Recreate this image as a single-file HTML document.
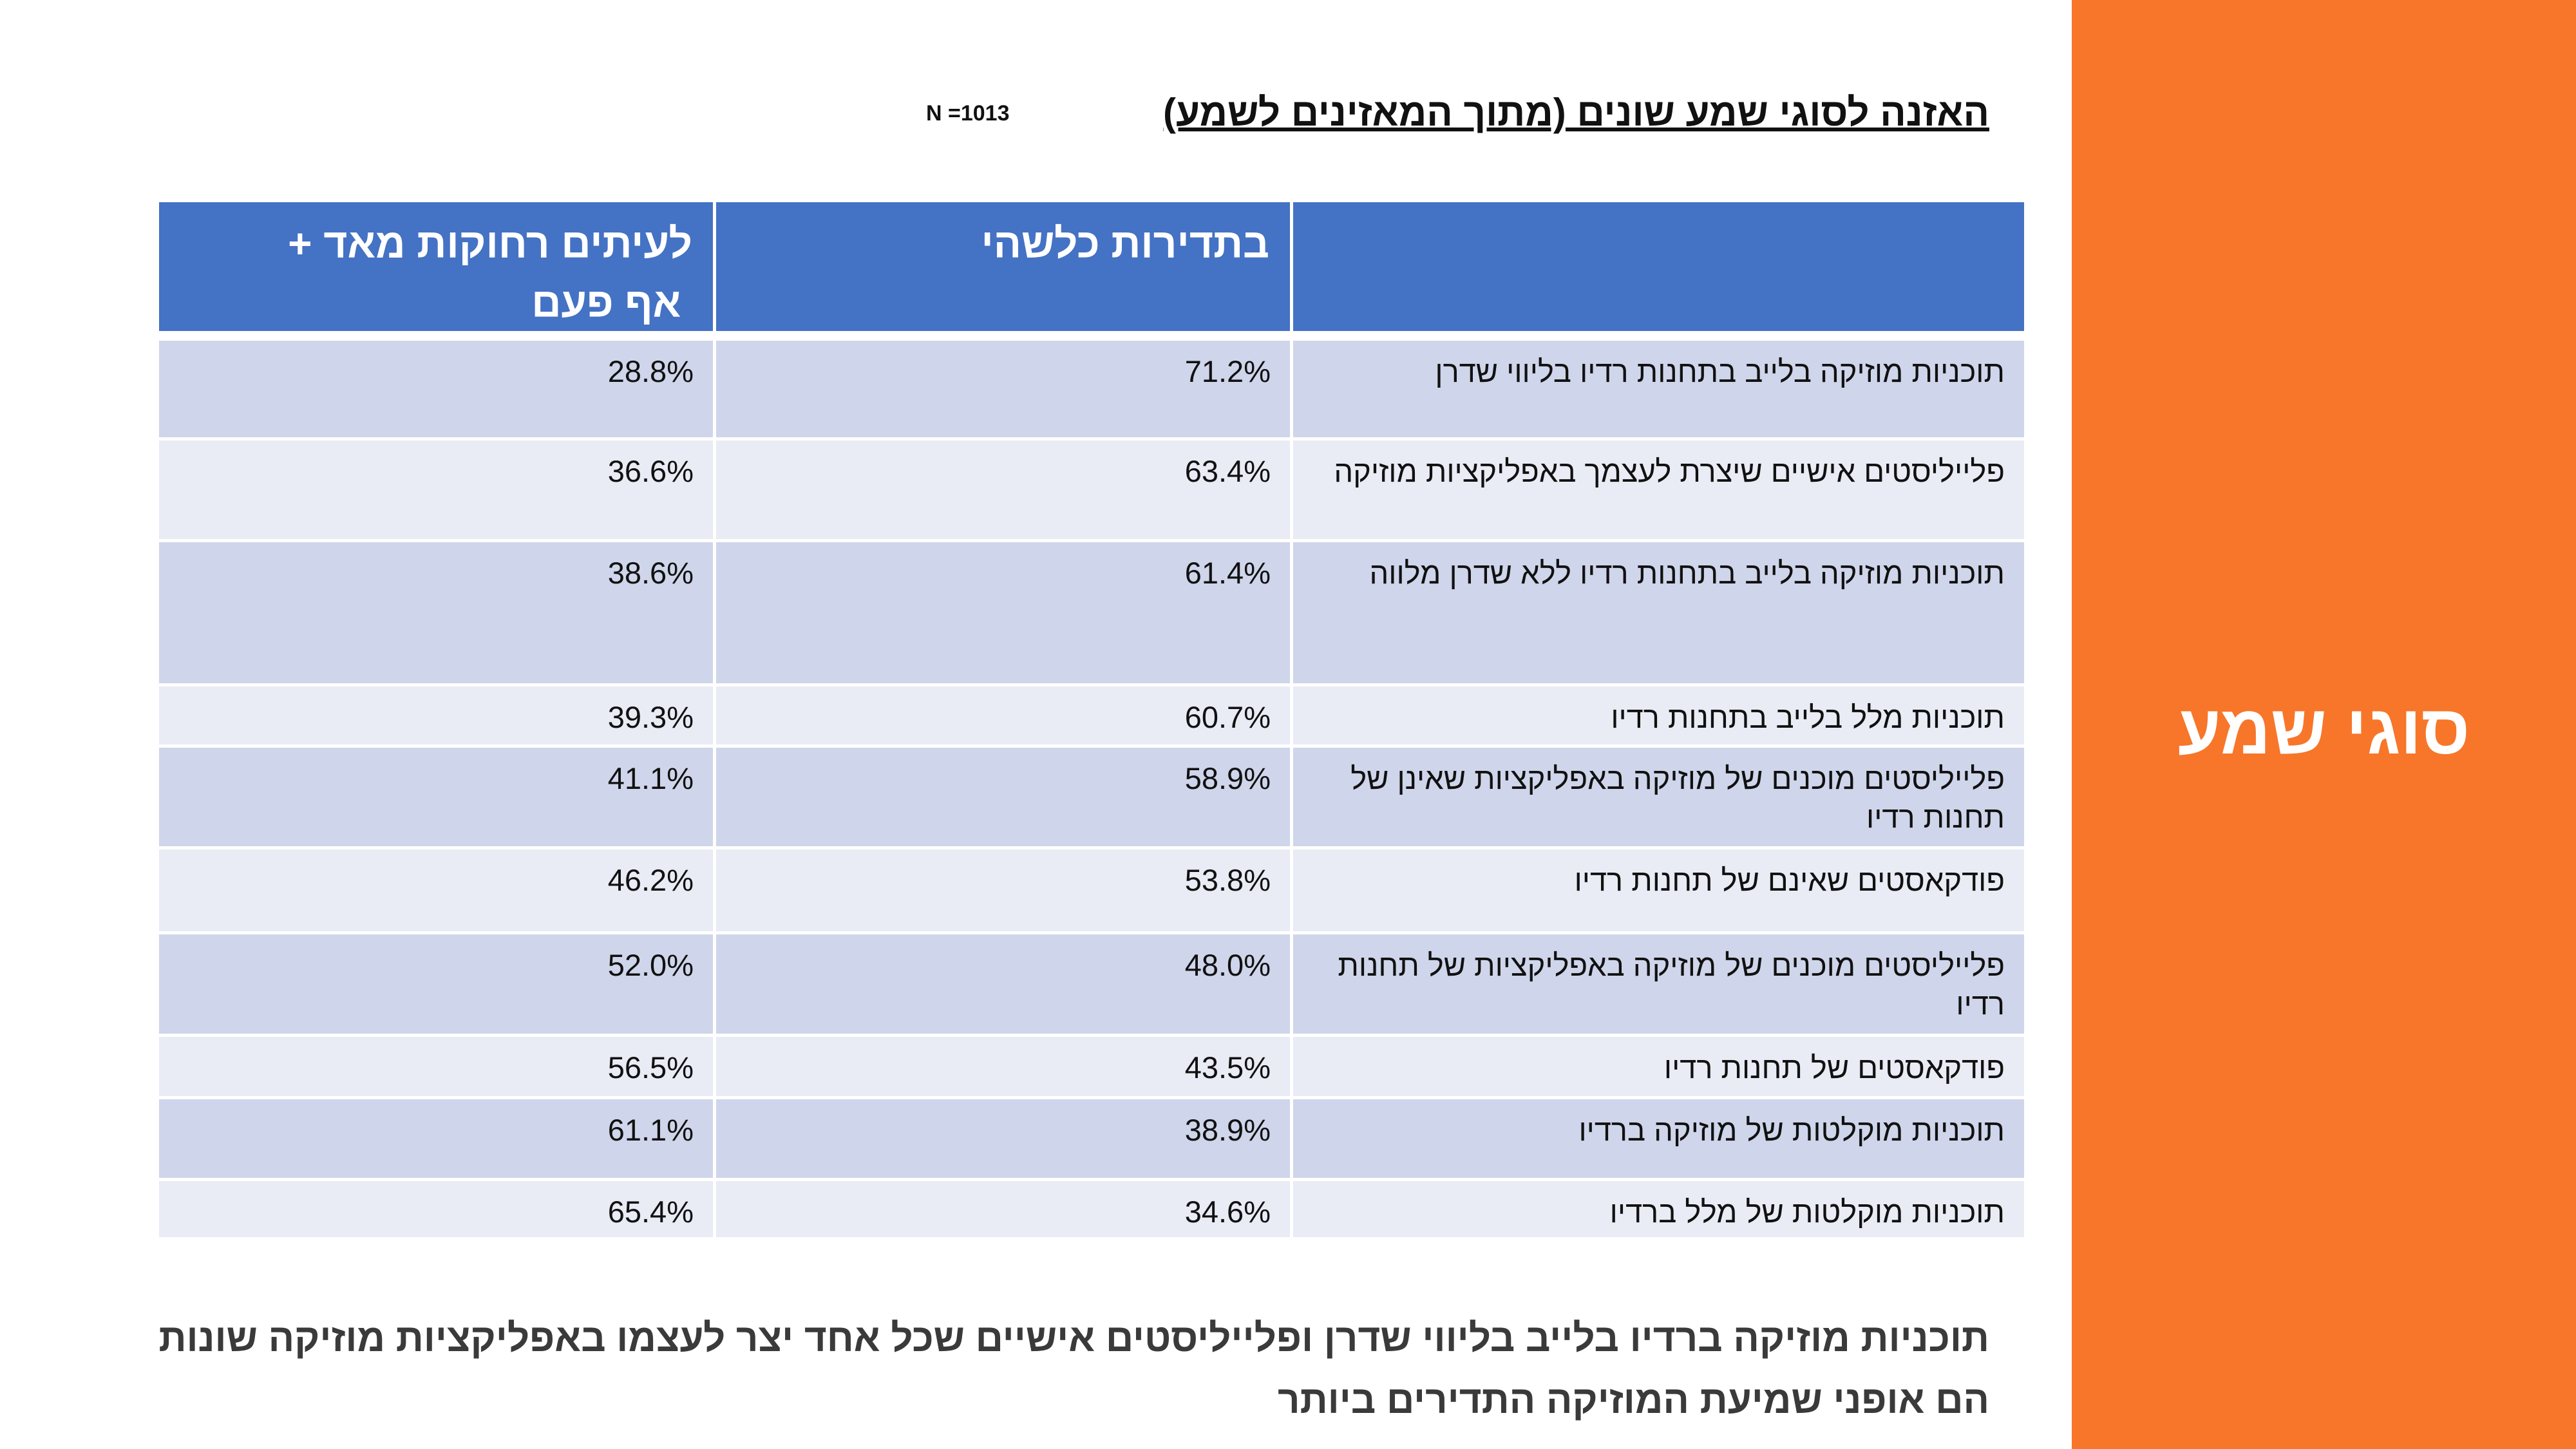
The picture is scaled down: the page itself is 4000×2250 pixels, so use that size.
<!DOCTYPE html>
<html lang="he"><head><meta charset="utf-8">
<style>
*{margin:0;padding:0;box-sizing:border-box}
body{width:4000px;height:2250px;position:relative;background:#fff;font-family:"Liberation Sans","Noto Sans CJK SC",sans-serif;overflow:hidden}
.abs{position:absolute}
.cell{position:absolute;direction:rtl;text-align:right;font-size:47px;color:#111;padding:18px 30px 0 30px;line-height:60px}
.hd{position:absolute;background:#4472C4;color:#fff;direction:rtl;text-align:right;font-size:64px;font-weight:bold;padding:18px 32px 0 30px;line-height:92px}
</style></head><body>
<div class="abs" style="left:3217px;top:0;width:783px;height:2250px;background:#F7762A"></div>
<div class="abs" style="left:3217px;top:1070px;width:783px;text-align:center;direction:rtl;color:#fff;font-size:108px;font-weight:bold">סוגי שמע</div>
<div class="abs" style="right:911px;top:140px;direction:rtl;font-size:60px;font-weight:bold;text-decoration:underline;color:#111">האזנה לסוגי שמע שונים (מתוך המאזינים לשמע)</div>
<div class="abs" style="left:1438px;top:157px;font-size:34px;font-weight:bold;color:#111">N =1013</div>
<div id="tbl"></div>
<div class="abs" style="right:911px;top:2030px;width:2900px;direction:rtl;text-align:right;font-size:60px;font-weight:bold;color:#3a3a3a;line-height:96px">תוכניות מוזיקה ברדיו בלייב בליווי שדרן ופלייליסטים אישיים שכל אחד יצר לעצמו באפליקציות מוזיקה שונות הם אופני שמיעת המוזיקה התדירים ביותר</div>
<script>
const categories=["תוכניות מוזיקה בלייב בתחנות רדיו בליווי שדרן","פלייליסטים אישיים שיצרת לעצמך באפליקציות מוזיקה","תוכניות מוזיקה בלייב בתחנות רדיו ללא שדרן מלווה","תוכניות מלל בלייב בתחנות רדיו","פלייליסטים מוכנים של מוזיקה באפליקציות שאינן של תחנות רדיו","פודקאסטים שאינם של תחנות רדיו","פלייליסטים מוכנים של מוזיקה באפליקציות של תחנות רדיו","פודקאסטים של תחנות רדיו","תוכניות מוקלטות של מוזיקה ברדיו","תוכניות מוקלטות של מלל ברדיו"];
const frequent=[71.2,63.4,61.4,60.7,58.9,53.8,48.0,43.5,38.9,34.6];
const rare=[28.8,36.6,38.6,39.3,41.1,46.2,52.0,56.5,61.1,65.4];
const rowEdges=[518,679,837,1061,1156,1314,1446,1605,1702,1829,1921];
const cols=[[2008,3143],[1112,2003],[247,1107]];
const tbl=document.getElementById('tbl');
function mk(cls,l,t,w,h,bg,txt,name){const d=document.createElement('div');d.className=cls;d.style.left=l+'px';d.style.top=t+'px';d.style.width=w+'px';d.style.height=h+'px';if(bg)d.style.background=bg;d.innerHTML=txt;


tbl.appendChild(d);return d;}
const heads=["","בתדירות כלשהי","לעיתים רחוקות מאד +<br>&nbsp;אף פעם"];
const hn=["header-category","header-frequent","header-rare"];
cols.forEach((c,i)=>mk('hd',c[0],314,c[1]-c[0],200,null,heads[i],hn[i]));
categories.forEach((cat,r)=>{const t=rowEdges[r]+(r===0?11:5),h=rowEdges[r+1]-t;const bg=r%2===0?'#CFD5EA':'#E9EBF5';
mk('cell',cols[0][0],t,cols[0][1]-cols[0][0],h,bg,cat,'row-label');
mk('cell',cols[1][0],t,cols[1][1]-cols[1][0],h,bg,frequent[r].toFixed(1)+'%','value-frequent');
mk('cell',cols[2][0],t,cols[2][1]-cols[2][0],h,bg,rare[r].toFixed(1)+'%','value-rare');});
</script>
</body></html>
